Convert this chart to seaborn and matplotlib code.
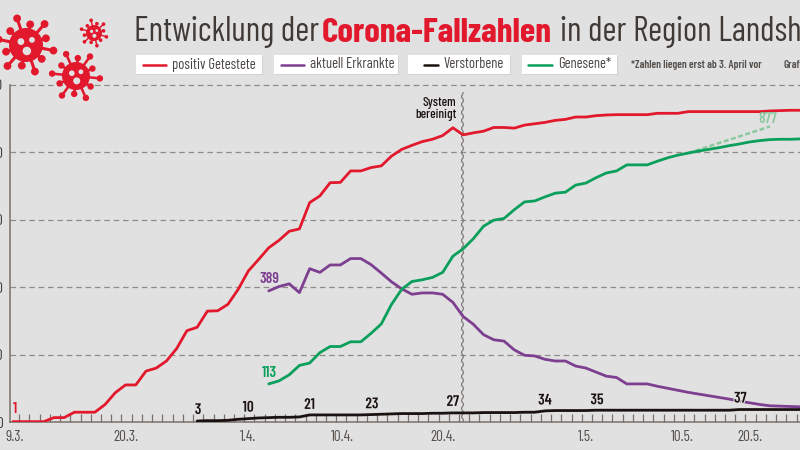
import numpy as np
import pandas as pd
import matplotlib
matplotlib.use("Agg")
import matplotlib.pyplot as plt
import matplotlib.patheffects as pe
from matplotlib.patches import Circle, Rectangle
import seaborn as sns
import logging

# ==========================================
# Data
# ==========================================

positive = [1, 1, 1, 1, 13, 13, 29, 29, 29, 52, 87, 110, 110, 151, 160, 181, 218, 271, 281, 329,
            330, 349, 393, 448, 482, 517, 539, 566, 573, 651, 671, 710, 711, 745, 745, 755, 760, 789, 809, 821,
            832, 839, 850, 873, 852, 858, 863, 874, 874, 872, 881, 885, 889, 895, 898, 905, 905, 909, 911, 912,
            912, 912, 912, 916, 916, 916, 921, 921, 921, 921, 921, 921, 921, 921, 923, 924, 925, 925]
current = [389, 402, 410, 384, 455, 444, 466, 466, 485, 485, 467, 442, 416, 395, 379, 383, 383, 379, 355, 313,
           290, 259, 244, 240, 214, 198, 196, 186, 181, 181, 166, 160, 148, 136, 132, 113, 113, 113, 106, 100,
           94, 88, 83, 78, 73, 68, 62, 57, 52, 48, 47, 46, 45]
recovered = [113, 122, 140, 168, 175, 206, 224, 224, 238, 238, 263, 291, 349, 394, 417, 422, 429, 444, 492, 514,
             544, 581, 599, 604, 630, 653, 656, 668, 679, 682, 703, 709, 725, 739, 745, 763, 763, 763, 774, 784,
             792, 798, 804, 809, 814, 820, 825, 831, 835, 838, 839, 839, 840]
deceased = [3, 4, 4, 5, 8, 10, 12, 13, 14, 14, 15, 21, 21, 21, 21, 21, 21, 22, 23, 24,
            25, 25, 25, 26, 26, 27, 27, 27, 28, 28, 28, 28, 29, 29, 33, 34, 34, 34, 34, 35,
            35, 35, 35, 35, 35, 35, 35, 35, 35, 35, 35, 35, 35, 37, 37, 37, 37, 37, 37, 37]

y_ticks = [0, 200, 400, 600, 800, 1000]
date_ticks = [0.15, 11, 23, 32.2, 42, 56, 65.4, 72]
date_labels = ["9.3.", "20.3.", "1.4.", "10.4.", "20.4.", "1.5.", "10.5.", "20.5."]

start_current = 25
start_deceased = 18
projection_days = [66, 74]
projection_values = [798, 877]
cleanup_day = 43.9

# label, day, value, x offset px, y offset px, colour
RED = "#e2182d"
PURPLE = "#7d3f90"
GREEN = "#0a9f5b"
BLACK = "#1a1210"
PALE = "#8cc8a0"
point_labels = [
    ("1", 0, 1, 2, 13, RED),
    ("389", 25, 389, 1, 12, PURPLE),
    ("113", 25, 113, 1, 11, GREEN),
    ("877", 74, 877, -2, 7, PALE),
    ("3", 18, 3, 1, 11, BLACK),
    ("10", 23, 10, 0, 11, BLACK),
    ("21", 29, 21, 0, 10, BLACK),
    ("23", 35, 23, 1, 10, BLACK),
    ("27", 43, 27, 0, 11, BLACK),
    ("34", 52, 34, 0, 10, BLACK),
    ("35", 57, 35, 1, 10, BLACK),
    ("37", 71, 37, 1, 11, BLACK),
]

# ==========================================
# Figure setup
# ==========================================

BG = "#e1e1e1"
TEXT = "#3f3a36"
AXIS = "#7a706a"
GRID = "#8f8b88"

sns.set_style("white")
logging.getLogger("matplotlib.font_manager").setLevel(logging.ERROR)
plt.rcParams["font.family"] = ["Barlow Condensed", "Roboto", "DejaVu Sans"]

fig = plt.figure(figsize=(8, 4.5), dpi=100, facecolor=BG)
ax = fig.add_axes([9.5 / 800, 28 / 450, 790.5 / 800, 337 / 450], facecolor=BG)

# ==========================================
# Lines
# ==========================================

days = np.arange(len(positive))
series = [
    (days, positive, RED),
    (days[start_current:], current, PURPLE),
    (days[start_current:], recovered, GREEN),
    (days[start_deceased:], deceased, BLACK),
]

for x_values, y_values, colour in series:
    frame = pd.DataFrame({"day": x_values, "cases": y_values})
    sns.lineplot(data=frame, x="day", y="cases", ax=ax, color=colour,
                 linewidth=2.0, errorbar=None, zorder=4)

sns.lineplot(x=projection_days, y=projection_values, ax=ax, color=PALE,
             linewidth=1.8, linestyle=(0, (2, 1)), errorbar=None, zorder=3)

ax.set_xlim(-0.342, 76.93)
ax.set_ylim(0, 1000)
ax.set_xlabel("")
ax.set_ylabel("")

# ==========================================
# Axes, grid, ticks
# ==========================================

for side in ["top", "right"]:
    ax.spines[side].set_visible(False)
for side in ["left", "bottom"]:
    ax.spines[side].set_color(AXIS)
    ax.spines[side].set_linewidth(1.1)

ax.set_yticks(y_ticks)
ax.set_yticklabels(y_ticks, fontsize=11, color=TEXT)
ax.tick_params(axis="y", length=0, pad=4.5)

for value in y_ticks[1:]:
    ax.axhline(value, color=GRID, linewidth=0.9, linestyle=(0, (4.5, 3)), clip_on=False, zorder=1)

ax.set_xticks(date_ticks)
ax.set_xticklabels(date_labels, fontsize=11, color="#55504c")
ax.set_xticks(np.arange(0.6, 77, 1.0), minor=True)
ax.tick_params(axis="x", which="major", length=0, pad=5.5)
ax.tick_params(axis="x", which="minor", bottom=True, direction="in", length=5.8, width=0.9, color=AXIS)

cleanup = ax.plot([cleanup_day, cleanup_day], [0, 978], color="#7f7b78", linewidth=0.9, zorder=2)[0]
cleanup.set_sketch_params(scale=1.0, length=8, randomness=1)

ax.text(cleanup_day - 0.55, 965, "System\nbereinigt", ha="right", va="top", fontsize=9.5,
        fontweight="medium", color=BLACK, linespacing=1.05)

for label, day, value, dx, dy, colour in point_labels:
    note = ax.annotate(label, (day, value), xytext=(dx * 0.72, dy * 0.72), textcoords="offset points",
                       ha="center", va="center", fontsize=11, fontweight="semibold", color=colour, zorder=6)
    if colour == BLACK:
        note.set_path_effects([pe.withStroke(linewidth=1.5, foreground=BG)])

# ==========================================
# Overlay in pixels: title, legend, virus icons
# ==========================================

over = fig.add_axes([0, 0, 1, 1], facecolor="none")
over.set_xlim(0, 800)
over.set_ylim(450, 0)
over.axis("off")

over.text(134, 41.5, "Entwicklung der", fontsize=24.4, color=TEXT, va="baseline")
over.text(322, 41.5, "Corona-Fallzahlen", fontsize=25.3, color=RED, fontweight="bold", va="baseline")
over.text(560, 41.5, "in der Region Landshut", fontsize=24.4, color=TEXT, va="baseline")

legend_items = [
    ("positiv Getestete", RED, 136, 262, 143, 166),
    ("aktuell Erkrankte", PURPLE, 274, 398, 281, 304),
    ("Verstorbene", BLACK, 408, 510, 424, 438),
    ("Genesene*", GREEN, 522, 617, 528, 552),
]
for label, colour, box_left, box_right, line_left, line_right in legend_items:
    over.add_patch(Rectangle((box_left + 1, 56), box_right - box_left, 19, color="#d2d2d2", lw=0))
    over.add_patch(Rectangle((box_left, 55), box_right - box_left, 19, color="white", lw=0))
    over.plot([line_left, line_right], [64.5, 64.5], color=colour, linewidth=1.8)
    over.text(line_right + 6, 64.5, label, fontsize=10.5, color="#4a4542", va="center")

over.text(631, 64.5, "*Zahlen liegen erst ab 3. April vor", fontsize=8, fontweight="semibold",
          color="#55504c", va="center")
over.text(783, 64.5, "Grafik", fontsize=8, fontweight="semibold", color="#55504c", va="center")


def draw_virus(cx, cy, body, reach, spikes, start):
    # spiky ball with three holes
    for k in range(spikes):
        angle = start + 2 * np.pi * k / spikes
        length = reach if k % 2 == 0 else reach * 0.75
        end_x, end_y = cx + length * np.cos(angle), cy + length * np.sin(angle)
        over.plot([cx, end_x], [cy, end_y], color=RED, linewidth=body * 0.13, zorder=5)
        over.add_patch(Circle((end_x, end_y), body * 0.23, color=RED, lw=0, zorder=5))
    over.add_patch(Circle((cx, cy), body, color=RED, lw=0, zorder=5))
    for hole_x, hole_y, hole_r in [(-0.3, -0.2, 0.2), (0.35, -0.3, 0.17), (0.05, 0.35, 0.25)]:
        over.add_patch(Circle((cx + hole_x * body, cy + hole_y * body), hole_r * body,
                              color=BG, lw=0, zorder=6))


draw_virus(26, 45, 17, 28, 12, 0.2)
draw_virus(76, 76, 14, 24, 12, 0.1)
draw_virus(94, 33, 8, 13, 12, 0.3)

fig.savefig("out.png", dpi=100, facecolor=BG)
